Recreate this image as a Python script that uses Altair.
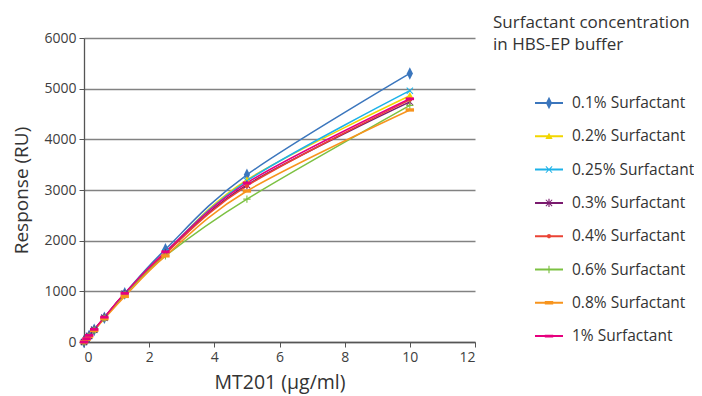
import altair as alt
import pandas as pd

# ---- data ----
x_vals = [0, 0.078, 0.156, 0.3125, 0.625, 1.25, 2.5, 5, 10]
series_names = ["0.1% Surfactant", "0.2% Surfactant", "0.25% Surfactant", "0.3% Surfactant",
                "0.4% Surfactant", "0.6% Surfactant", "0.8% Surfactant", "1% Surfactant"]
s01 = [0, 60, 120, 240, 480, 960, 1830, 3300, 5300]
s02 = [0, 60, 120, 240, 480, 950, 1760, 3200, 4860]
s025 = [0, 60, 120, 240, 480, 950, 1770, 3180, 4960]
s03 = [0, 60, 120, 240, 480, 950, 1750, 3100, 4740]
s04 = [0, 60, 120, 240, 480, 950, 1750, 3080, 4780]
s06 = [0, 55, 115, 235, 470, 930, 1700, 2820, 4670]
s08 = [0, 55, 115, 230, 460, 900, 1700, 2980, 4580]
s1 = [0, 65, 130, 250, 490, 960, 1780, 3140, 4800]
series_values = [s01, s02, s025, s03, s04, s06, s08, s1]
colors = ["#3b76bd", "#f2d600", "#1cb2e8", "#7a1a6e", "#ea4335", "#7cc142", "#f7941d", "#e6007e"]
legend_title = ["Surfactant concentration", "in HBS-EP buffer"]
x_title = "MT201 (µg/ml)"
y_title = "Response (RU)"

# marker shapes (unit square paths)
LINE = "M-1,-0.07H1V0.07H-1Z"
markers = [
    "M0,-0.45L0.22,0L0,0.45L-0.22,0Z",
    "M0,-0.26L0.26,0.2L-0.26,0.2Z",
    "M-0.25,-0.2L-0.2,-0.25L0.25,0.2L0.2,0.25Z M0.2,-0.25L0.25,-0.2L-0.2,0.25L-0.25,0.2Z",
    "M-0.25,-0.2L-0.2,-0.25L0.25,0.2L0.2,0.25Z M0.2,-0.25L0.25,-0.2L-0.2,0.25L-0.25,0.2Z M-0.04,-0.3H0.04V0.3H-0.04Z",
    "M-0.15,0A0.15,0.15 0 1,1 0.15,0A0.15,0.15 0 1,1 -0.15,0Z",
    "M-0.26,-0.04H0.26V0.04H-0.26Z M-0.04,-0.26H0.04V0.26H-0.04Z",
    "M-0.3,-0.12H0.3V0.12H-0.3Z",
    "M-0.3,-0.1H0.3V0.1H-0.3Z",
]
legend_shapes = [LINE + " " + m for m in markers]

rows = []
for name, vals in zip(series_names, series_values):
    for xv, yv in zip(x_vals, vals):
        rows.append({"conc": xv, "resp": yv, "series": name, "legend": name})
df = pd.DataFrame(rows)

FONT = "Open Sans"

x_enc = alt.X("conc:Q", title=x_title,
              scale=alt.Scale(domain=[0, 12], nice=False, zero=True),
              axis=alt.Axis(values=[0, 2, 4, 6, 8, 10, 12], grid=False, tickSize=5,
                            labelFontSize=14, titleFontSize=19.5, titlePadding=9,
                            labelPadding=3, format="d"))
y_enc = alt.Y("resp:Q", title=y_title,
              scale=alt.Scale(domain=[0, 6000], nice=False),
              axis=alt.Axis(values=[0, 1000, 2000, 3000, 4000, 5000, 6000], grid=True,
                            tickSize=5, labelFontSize=14, titleFontSize=19,
                            titlePadding=12, labelPadding=3, format="d"))

base = alt.Chart(df)

lines = base.mark_line(interpolate="cardinal", strokeWidth=1.5).encode(
    x=x_enc, y=y_enc,
    color=alt.Color("series:N", scale=alt.Scale(domain=series_names, range=colors), legend=None),
)

points = base.mark_point(filled=True, opacity=1, size=784, strokeWidth=0).encode(
    x="conc:Q", y="resp:Q",
    color=alt.Color("series:N", scale=alt.Scale(domain=series_names, range=colors), legend=None),
    shape=alt.Shape("series:N", scale=alt.Scale(domain=series_names, range=markers), legend=None),
)

leg = alt.Legend(title=None, orient="none", legendX=451, legendY=51,
                 symbolSize=784, labelFontSize=15.5, labelOffset=9,
                 rowPadding=10.3, padding=0, symbolStrokeWidth=0, labelLimit=300,
                 labelFont=FONT, labelColor="#333333")

legend_layer = base.transform_filter("false").mark_point(filled=True, opacity=1, size=784, strokeWidth=0).encode(
    x="conc:Q", y="resp:Q",
    color=alt.Color("legend:N", scale=alt.Scale(domain=series_names, range=colors), legend=leg),
    shape=alt.Shape("legend:N", scale=alt.Scale(domain=series_names, range=legend_shapes), legend=leg),
)

title_df = pd.DataFrame({"t": ["\n".join(legend_title)]})
title_text = alt.Chart(title_df).mark_text(
    align="left", baseline="top", fontSize=17, lineHeight=22, font=FONT, color="#333333",
    lineBreak="\n"
).encode(text="t:N", x=alt.value(409), y=alt.value(-23))

chart = alt.layer(lines, points, legend_layer, title_text).resolve_scale(
    color="independent", shape="independent"
).properties(
    width=391, height=304,
    autosize=alt.AutoSizeParams(type="none"),
    padding={"left": 76, "top": 30, "right": 219, "bottom": 54},
).configure_view(stroke=None).configure_axis(
    domainColor="#555555", tickColor="#555555", gridColor="#828282", gridWidth=1.3,
    domainWidth=1.3, labelColor="#404040", titleColor="#333333",
    labelFont=FONT, titleFont=FONT, titleFontWeight="normal"
)

chart.save("out.html", embed_options={"renderer": "svg", "actions": False})
